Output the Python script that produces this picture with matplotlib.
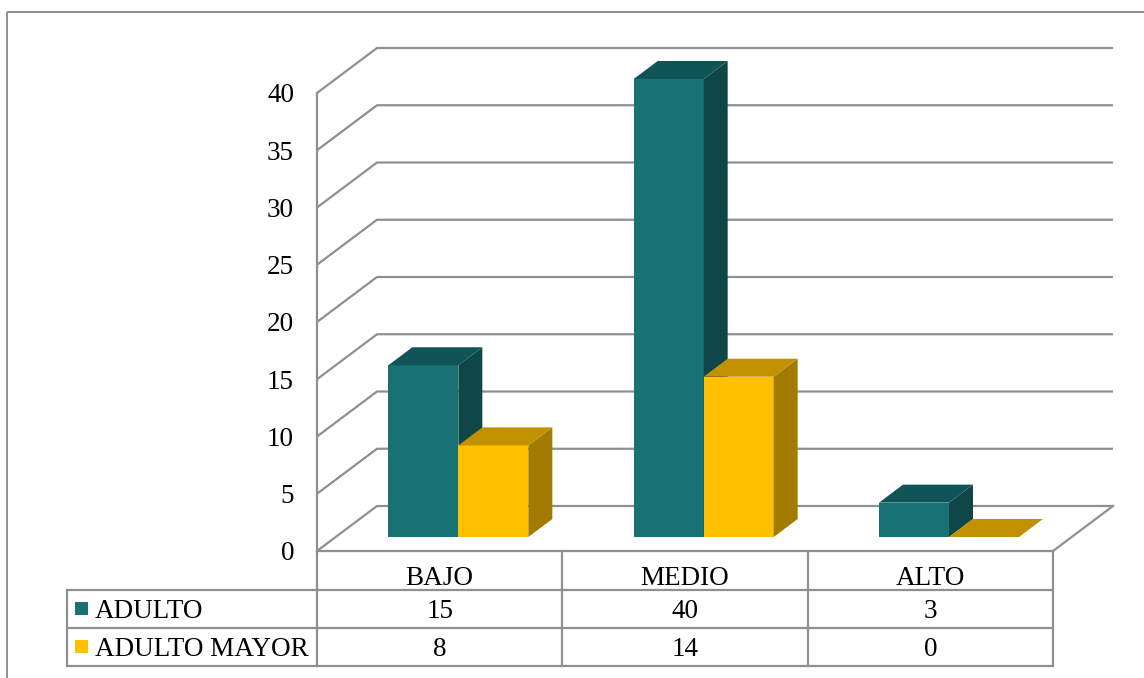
import matplotlib
matplotlib.use('Agg')
import matplotlib.pyplot as plt
from matplotlib.patches import Polygon, Rectangle

# ---------------- data ----------------
categories = ['BAJO', 'MEDIO', 'ALTO']
series_names = ['ADULTO', 'ADULTO MAYOR']
adulto = [15, 40, 3]
adulto_mayor = [8, 14, 0]
yticks = [0, 5, 10, 15, 20, 25, 30, 35, 40]

# ---------------- style ----------------
plt.rcParams['font.family'] = ['Liberation Serif', 'DejaVu Serif']
FS = 19.5
GRID = '#8f8f8f'
front_cols = ['#187172', '#FFC000']
top_cols = ['#115457', '#C29100']
side_cols = ['#0F4748', '#A27B00']
series_vals = [adulto, adulto_mayor]

W, H = 1144, 678
fig = plt.figure(figsize=(W / 100, H / 100), dpi=100)

def fx(px):
    return px / W

def fy(py):
    return 1 - py / H

# geometry of the pseudo-3D plot (pixels)
X0, X1 = 317, 1053          # front floor edge
Y0, Y40 = 551, 93           # front plane y of 0 and 40
DXp, DYp = 60, 45           # depth offset of back wall
ncat = len(categories)
cat_w = (X1 - X0) / ncat
unit = (Y0 - Y40) / yticks[-1]
DX = DXp / cat_w
DY = DYp / unit
ymax = yticks[-1]

ax = fig.add_axes([fx(X0), fy(Y0), (X1 + DXp - X0) / W, (Y0 - (Y40 - DYp)) / H])
ax.set_xlim(-0.5, ncat - 0.5 + DX)
ax.set_ylim(0, ymax + DY)
ax.patch.set_visible(False)
for s in ax.spines.values():
    s.set_visible(False)

lw = 1.6
# gridlines (left wall diagonal + back wall horizontal)
for v in yticks:
    ax.plot([-0.5, -0.5 + DX, ncat - 0.5 + DX], [v, v + DY, v + DY],
            color=GRID, lw=lw, zorder=1, clip_on=False, solid_capstyle='butt')
# left front vertical edge
ax.plot([-0.5, -0.5], [0, ymax], color=GRID, lw=lw, zorder=1, clip_on=False)
# floor front and right edges
ax.plot([-0.5, ncat - 0.5], [0, 0], color=GRID, lw=lw, zorder=1, clip_on=False)
ax.plot([ncat - 0.5, ncat - 0.5 + DX], [0, DY], color=GRID, lw=lw, zorder=1, clip_on=False)

# bars
f0 = 14 / 45      # depth position of bar front
fd = 0.4          # bar depth fraction
Wb = 70 / cat_w   # bar width in category units
z = 3
for i in range(ncat):
    for j, vals in enumerate(series_vals):
        h = vals[i]
        xl = i - Wb + j * Wb + f0 * DX
        yb = f0 * DY
        ddx, ddy = fd * DX, fd * DY
        if h > 0:
            ax.bar(xl, h, width=Wb, bottom=yb, align='edge', color=front_cols[j],
                   edgecolor='none', zorder=z, clip_on=False)
            ax.add_patch(Polygon([(xl + Wb, yb), (xl + Wb, yb + h),
                                  (xl + Wb + ddx, yb + h + ddy), (xl + Wb + ddx, yb + ddy)],
                                 closed=True, facecolor=side_cols[j], edgecolor='none',
                                 zorder=z + 0.1, clip_on=False))
        ax.add_patch(Polygon([(xl, yb + h), (xl + Wb, yb + h),
                              (xl + Wb + ddx, yb + h + ddy), (xl + ddx, yb + h + ddy)],
                             closed=True, facecolor=top_cols[j], edgecolor='none',
                             zorder=z + 0.2, clip_on=False))
        z += 1

ax.set_xticks([])
ax.set_yticks(yticks)
ax.set_yticklabels([str(v) for v in yticks])
ax.tick_params(axis='y', length=0, pad=16.5, labelsize=FS, labelcolor='black')

# ---------------- table + frame (pixel overlay) ----------------
tab = fig.add_axes([0, 0, 1, 1])
tab.set_xlim(0, W)
tab.set_ylim(H, 0)
tab.axis('off')
tab.patch.set_visible(False)

# outer chart border
tab.add_patch(Rectangle((7, 12), W + 20, H + 20, fill=False, edgecolor=GRID,
                        lw=1.4, clip_on=False))

LX = 67
rows_y = [590, 628, 666]
col_x = [X0 + k * cat_w for k in range(ncat + 1)]
for y in rows_y:
    tab.plot([LX, X1], [y, y], color=GRID, lw=lw, solid_capstyle='butt')
tab.plot([LX, LX], [rows_y[0], rows_y[-1]], color=GRID, lw=lw)
for x in col_x:
    tab.plot([x, x], [Y0, rows_y[-1]], color=GRID, lw=lw)

# header labels
for k, c in enumerate(categories):
    cx = (col_x[k] + col_x[k + 1]) / 2
    tab.text(cx, 585, c, ha='center', va='baseline', fontsize=FS, color='black')

# series rows
baselines = [618, 656]
for j, (name, vals) in enumerate(zip(series_names, series_vals)):
    bl = baselines[j]
    tab.add_patch(Rectangle((75, bl - 16), 13, 13, facecolor=front_cols[j], edgecolor='none'))
    tab.text(95, bl, name, ha='left', va='baseline', fontsize=FS, color='black')
    for k in range(ncat):
        cx = (col_x[k] + col_x[k + 1]) / 2
        tab.text(cx, bl, str(vals[k]), ha='center', va='baseline', fontsize=FS, color='black')

fig.savefig('out.png', dpi=100)
